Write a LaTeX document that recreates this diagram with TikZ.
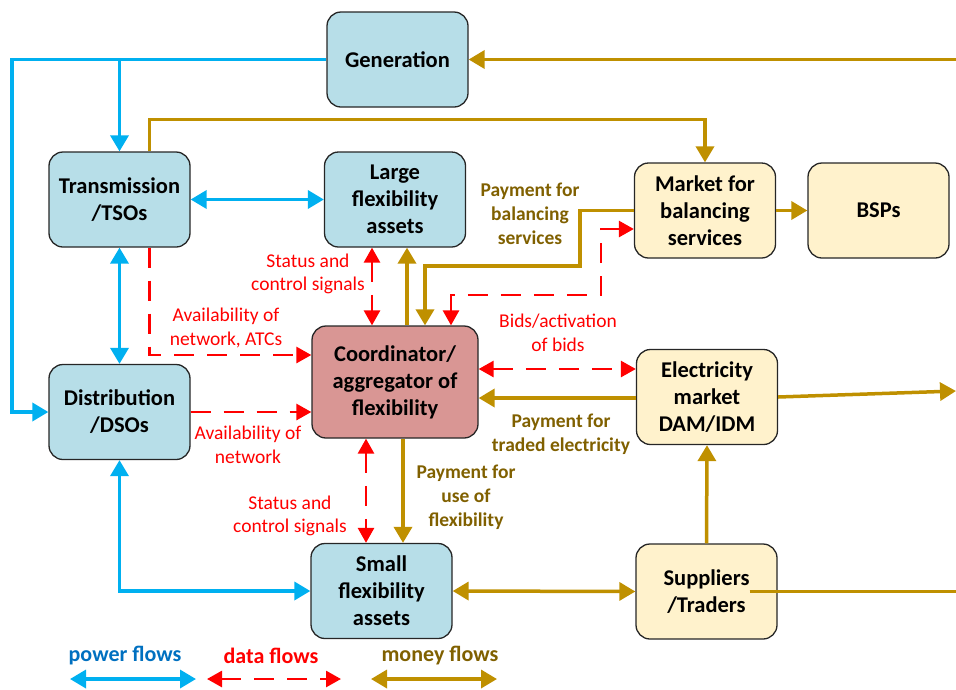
\documentclass[tikz,border=0pt]{standalone}
\usepackage{fontspec}
\setmainfont{Carlito}
\usetikzlibrary{arrows.meta,calc}
\definecolor{bfill}{HTML}{B7DEE8}
\definecolor{yfill}{HTML}{FFF2CC}
\definecolor{cfill}{HTML}{D99694}
\definecolor{pblue}{HTML}{00B0F0}
\definecolor{lblue}{HTML}{0070C0}
\definecolor{mgold}{HTML}{BF9000}
\definecolor{tgold}{HTML}{806000}
\definecolor{dred}{HTML}{FF0000}
\tikzset{
  boxbase/.style={draw=black!85,line width=1.3pt,rounded corners=14pt,minimum width=141pt,minimum height=95pt,align=center,font=\fontsize{22.5}{27}\selectfont\bfseries,text=black,inner sep=0pt},
  bluebox/.style={boxbase,fill=bfill},
  yelbox/.style={boxbase,fill=yfill},
  pw/.style={draw=pblue,line width=3.5pt},
  mn/.style={draw=mgold,line width=3.5pt},
  dt/.style={draw=dred,line width=2.8pt,dash pattern=on 20pt off 13pt},
  Tb/.tip={Triangle[length=16pt,width=18pt]},
  Tr/.tip={Triangle[length=15pt,width=16pt]},
  redlab/.style={text=dred,align=center,font=\fontsize{19.5}{23.5}\selectfont,inner sep=0pt},
  goldlab/.style={text=tgold,align=center,font=\fontsize{19.5}{24}\selectfont\bfseries,inner sep=0pt},
}
\begin{document}
\begin{tikzpicture}[x=1pt,y=-1pt]
\useasboundingbox (0,0) rectangle (956,689);
% nodes
\node[bluebox] (gen) at (397.5,59.5) {Generation};
\node[bluebox] (tso) at (119.5,199.5) {Transmission\\/TSOs};
\node[bluebox] (lfa) at (395,199.5) {Large\\flexibility\\assets};
\node[yelbox] (mbs) at (705,210.5) {Market for\\balancing\\services};
\node[yelbox] (bsp) at (878.5,210.5) {BSPs};
\node[boxbase,fill=cfill,minimum width=166pt,minimum height=112pt] (coord) at (395,382) {Coordinator/\\aggregator of\\flexibility};
\node[bluebox] (dso) at (119.5,412) {Distribution\\/DSOs};
\node[yelbox] (em) at (707,397) {Electricity\\market\\DAM/IDM};
\node[bluebox] (sfa) at (381.5,591) {Small\\flexibility\\assets};
\node[yelbox] (sup) at (706.5,591.5) {Suppliers\\/Traders};
% coordinates
\coordinate (genL) at (12,59.5);
\coordinate (jt) at (119.5,59.5);
\coordinate (rtop) at (956,59.5);
\coordinate (rem) at (956,391);
\coordinate (rsup) at (956,591.5);
% power flows
\draw[pw,-{Tb}] (gen.west) -- (genL) |- (dso.west);
\draw[pw,-{Tb}] (jt) -- (tso.north);
\draw[pw,{Tb}-{Tb}] (tso.east) -- (lfa.west);
\draw[pw,{Tb}-{Tb}] (tso.south) -- (dso.north);
\draw[pw,{Tb}-{Tb}] (dso.south) |- (sfa.west);
% money flows
\draw[mn,-{Tb}] (rtop) -- (gen.east);
\draw[mn,-{Tb}] ([xshift=30]tso.north) -- ++(0,-32) -| (mbs.north);
\draw[mn,-{Tb}] ([xshift=12]coord.north) -- ([xshift=12]lfa.south);
\draw[mn,-{Tb}] (mbs.west) -- ++(-54,0) -- ++(0,55.5) -| ([xshift=30]coord.north);
\draw[mn,-{Tb}] ([yshift=-1]em.west) -- ([yshift=-1]em.west -| coord.east);
\draw[mn,-{Tb}] (em.east) -- (rem);
\draw[mn,-{Tb}] ([xshift=8]coord.south) -- ([xshift=8]coord.south |- sfa.north);
\draw[mn,{Tb}-{Tb}] (sfa.east) -- (sup.west);
\draw[mn] ([xshift=43]sup.center) -- (rsup);
\draw[mn,-{Tb}] (sup.north) -- (em.south);
\draw[mn,-{Tb}] (mbs.east) -- (bsp.west);
% data flows
\draw[dt,{Tr}-{Tr}] ([xshift=-23]lfa.south) -- ([xshift=-23]lfa.south |- coord.north);
\draw[dt,{Tr}-{Tr}] ([xshift=56]coord.north) |- (601,295) |- ([yshift=-18.5]mbs.west);
\draw[dt,-{Tr}] ([xshift=30]tso.south) |- ([yshift=27]coord.west);
\draw[dt,-{Tr}] (dso.east) -- (dso.east -| coord.west);
\draw[dt,{Tr}-{Tr}] ([yshift=13]coord.east) -- ([yshift=13]coord.east -| em.west);
\draw[dt,{Tr}-{Tr}] ([xshift=-29]coord.south) -- ([xshift=-29]coord.south |- sfa.north);
% labels
\node[goldlab] (l1) at (530,214) {Payment for\\balancing\\services};
\node[redlab] (l2) at (308,274) {Status and\\control signals};
\node[redlab] (l3) at (226,328) {Availability of\\network, ATCs};
\node[redlab] (l4) at (558,333) {Bids/activation\\of bids};
\node[redlab] (l5) at (248,445) {Availability of\\network};
\node[goldlab] (l6) at (561,434) {Payment for\\traded electricity};
\node[goldlab] (l7) at (466,497) {Payment for\\use of\\flexibility};
\node[redlab] (l8) at (290,516) {Status and\\control signals};
% legend
\node[text=lblue,font=\fontsize{22}{26}\selectfont\bfseries] (lg1) at (125,656) {power flows};
\node[text=dred,font=\fontsize{22}{26}\selectfont\bfseries] (lg2) at (271,656) {data flows};
\node[text=tgold,font=\fontsize{22}{26}\selectfont\bfseries] (lg3) at (440,656) {money flows};
\coordinate (a1) at (70,679); \coordinate (a2) at (196,679);
\coordinate (b1) at (207,679); \coordinate (b2) at (341,679);
\coordinate (c1) at (371,679); \coordinate (c2) at (497,679);
\draw[pw,{Tb}-{Tb}] (a1) -- (a2);
\draw[dt,{Tr}-{Tr}] (b1) -- (b2);
\draw[mn,{Tb}-{Tb}] (c1) -- (c2);
\end{tikzpicture}
\end{document}
